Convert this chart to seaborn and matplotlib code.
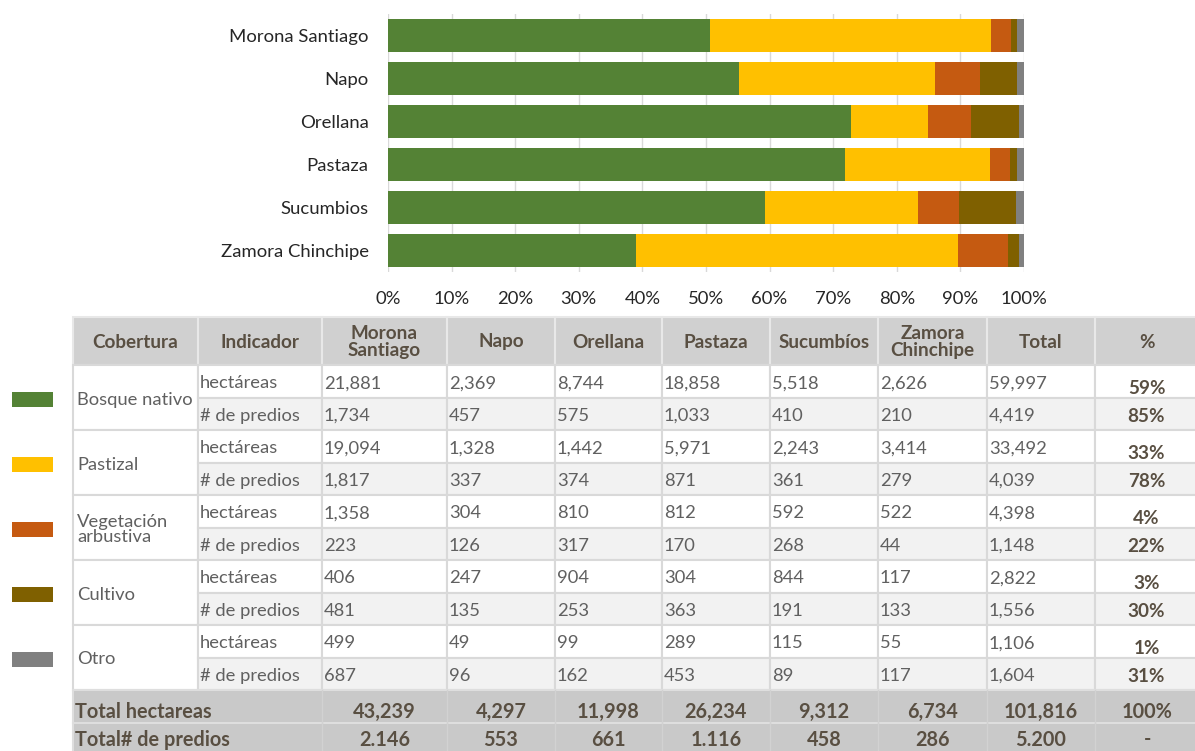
import numpy as np
import pandas as pd
import seaborn as sns
import matplotlib.pyplot as plt
from matplotlib.patches import Rectangle
from matplotlib.ticker import PercentFormatter

# Data
provincias = ['Morona Santiago', 'Napo', 'Orellana', 'Pastaza', 'Sucumbios', 'Zamora Chinchipe']
encabezados = ['Cobertura', 'Indicador', 'Morona\nSantiago', 'Napo', 'Orellana', 'Pastaza',
               'Sucumbíos', 'Zamora\nChinchipe', 'Total', '%']
coberturas = ['Bosque nativo', 'Pastizal', 'Vegetación\narbustiva', 'Cultivo', 'Otro']
colores = ['#548235', '#ffc000', '#c55a11', '#7f6000', '#808080']

hectareas = [
    [21881, 2369, 8744, 18858, 5518, 2626],
    [19094, 1328, 1442, 5971, 2243, 3414],
    [1358, 304, 810, 812, 592, 522],
    [406, 247, 904, 304, 844, 117],
    [499, 49, 99, 289, 115, 55],
]
predios = [
    [1734, 457, 575, 1033, 410, 210],
    [1817, 337, 374, 871, 361, 279],
    [223, 126, 317, 170, 268, 44],
    [481, 135, 253, 363, 191, 133],
    [687, 96, 162, 453, 89, 117],
]
total_ha = [59997, 33492, 4398, 2822, 1106]
total_pred = [4419, 4039, 1148, 1556, 1604]
pct_ha = ['59%', '33%', '4%', '3%', '1%']
pct_pred = ['85%', '78%', '22%', '30%', '31%']
fila_total_ha = ['43,239', '4,297', '11,998', '26,234', '9,312', '6,734', '101,816', '100%']
fila_total_pred = ['2.146', '553', '661', '1.116', '458', '286', '5.200', '-']

plt.rcParams['font.family'] = ['Lato', 'DejaVu Sans']

fig = plt.figure(figsize=(11.95, 7.51), dpi=100)
W, H = 1195, 751

# ---- stacked bar chart (shares of hectares per province) ----
df = pd.DataFrame(hectareas, index=coberturas, columns=provincias).T
share = df.div(df.sum(axis=1), axis=0)
cum = share.cumsum(axis=1)

ax = fig.add_axes([388 / W, 1 - 272 / H, 636 / W, 258 / H])
for i in reversed(range(len(coberturas))):
    sns.barplot(x=cum.iloc[:, i].values, y=provincias, color=colores[i], saturation=1,
                width=0.79, orient='h', errorbar=None, linewidth=0, ax=ax)
ax.set_xlim(0, 1)
ax.set_xticks(np.arange(0, 1.01, 0.1))
ax.xaxis.set_major_formatter(PercentFormatter(1.0, decimals=0))
ax.set_axisbelow(True)
ax.xaxis.grid(True, color='#d9d9d9', linewidth=1)
for s in ax.spines.values():
    s.set_visible(False)
ax.tick_params(axis='both', length=0, labelsize=13.3, colors='#262626')
ax.tick_params(axis='x', pad=14)
ax.tick_params(axis='y', pad=14)
ax.set_xlabel('')
ax.set_ylabel('')

# ---- table ----
tab = fig.add_axes([0, 0, 1, 1])
tab.set_xlim(0, W)
tab.set_ylim(H, 0)
tab.axis('off')

cols = [73, 198, 322, 447, 555, 662, 770, 878, 987, 1095, 1200]
hdr_top, hdr_bot = 317, 365
pitch = 32.5
body = [hdr_bot + k * pitch for k in range(11)]
line_c = '#d9d9d9'
txt_c = '#606060'
bold_c = '#594f42'
fs = 13.2


def cell(x0, x1, y0, y1, fc, ec=line_c):
    tab.add_patch(Rectangle((x0, y0), x1 - x0, y1 - y0, facecolor=fc, edgecolor=ec, linewidth=1.5))


# header
for j in range(len(encabezados)):
    cell(cols[j], cols[j + 1], hdr_top, hdr_bot, '#d0d0d0', '#e8e8e8')
    tab.text((cols[j] + cols[j + 1]) / 2, (hdr_top + hdr_bot) / 2 + 1, encabezados[j],
             ha='center', va='center', fontsize=13.6, fontweight='bold', color=bold_c,
             linespacing=1.05)

# body
for i, cob in enumerate(coberturas):
    y0, y1, y2 = body[2 * i], body[2 * i + 1], body[2 * i + 2]
    cell(cols[0], cols[1], y0, y2, 'white')
    tab.text(cols[0] + 4, (y0 + y2) / 2 + 2, cob, ha='left', va='center', fontsize=fs,
             color=txt_c, linespacing=1.0)
    filas = [
        ('hectáreas', hectareas[i] + [total_ha[i]], pct_ha[i], 'white', y0, y1, 7),
        ('# de predios', predios[i] + [total_pred[i]], pct_pred[i], '#f2f2f2', y1, y2, 3),
    ]
    for nombre, vals, pct, fc, ya, yb, dy in filas:
        cell(cols[1], cols[2], ya, yb, fc)
        tab.text(cols[1] + 2, (ya + yb) / 2 + 2, nombre, ha='left', va='center', fontsize=fs,
                 color=txt_c)
        for j, v in enumerate(vals):
            cell(cols[j + 2], cols[j + 3], ya, yb, fc)
            tab.text(cols[j + 2] + 2, (ya + yb) / 2 + 2, f'{v:,}', ha='left', va='center',
                     fontsize=fs, color=txt_c)
        cell(cols[9], cols[10], ya, yb, fc)
        tab.text((cols[9] + cols[10]) / 2 - 1, (ya + yb) / 2 + dy, pct, ha='center', va='center',
                 fontsize=13.6, fontweight='bold', color=bold_c)

# swatches
for i, c in enumerate(colores):
    yc = (body[2 * i] + body[2 * i + 2]) / 2 + 2
    tab.add_patch(Rectangle((12, yc - 7.5), 41, 15, facecolor=c, edgecolor='none'))

# totals
t0 = body[-1]
for k, (lab, vals) in enumerate([('Total hectareas', fila_total_ha), ('Total# de predios', fila_total_pred)]):
    ya, yb = t0 + k * 33, t0 + (k + 1) * 33
    ty = (ya + yb) / 2 + (5 if k == 0 else 0)
    tab.add_patch(Rectangle((cols[0], ya), cols[-1] - cols[0], yb - ya, facecolor='#c9c9c9',
                            edgecolor='#dedede', linewidth=1.5))
    for x in cols[2:-1]:
        tab.plot([x, x], [ya, yb], color='#d2d2d2', linewidth=1)
    tab.text(cols[0] + 2, ty, lab, ha='left', va='center', fontsize=14.3,
             fontweight='bold', color=bold_c)
    for j, v in enumerate(vals):
        xc = (cols[j + 2] + cols[j + 3]) / 2
        tab.text(xc, ty, v, ha='center', va='center', fontsize=14.3,
                 fontweight='bold', color=bold_c)

fig.savefig('out.png', dpi=100)
